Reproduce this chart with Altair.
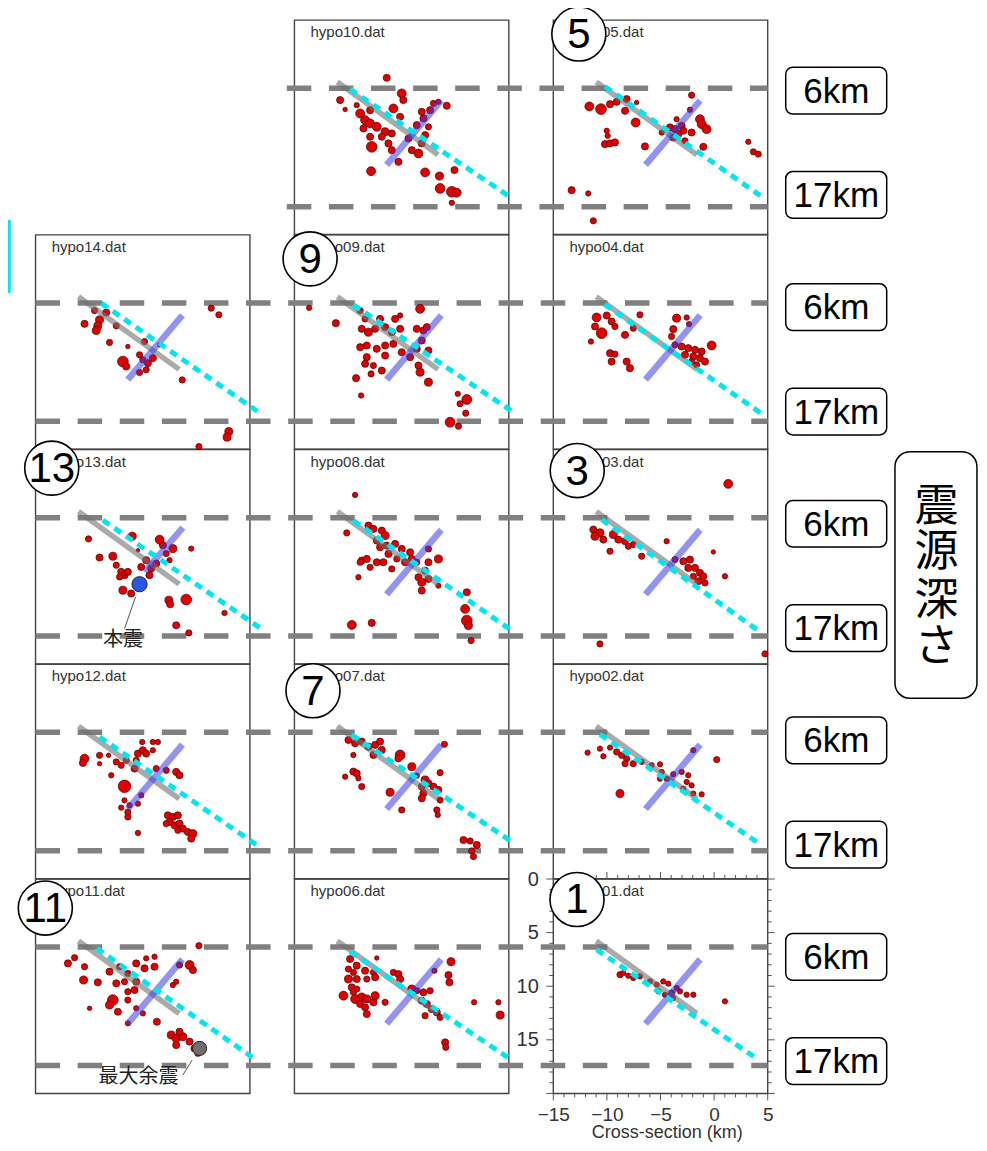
import altair as alt
import pandas as pd

# ------------------------------------------------------------------
# Hypocentres per panel: (cross-section km, depth km, size class)
# ------------------------------------------------------------------
HYPO10 = [(-6.39,5.38,2),(-10.74,7.46,2),(-10.27,8.33,1.25),(-9.19,7.93,1.5),(-8.87,8.71,2.5),(-8.41,9.33,2.5),(-7.94,9.64,2.5),(-8.56,10.1,2),(-7.32,9.95,2.5),(-6.54,10.42,2.25),(-5.92,10.57,2),(-6.85,10.88,2),(-7.94,10.88,2),(-7.79,11.82,3),(-7.94,8.4,2),(-4.99,6.84,2.5),(-4.84,7.46,2),(-5.77,8.24,2.5),(-5.14,9.02,2),(-5.92,12.13,2),(-5.3,13.22,2),(-3.43,12.44,2.5),(-3.13,11.5,2),(-2.81,10.73,2),(-3.59,9.8,2),(-2.96,9.17,2),(-2.34,8.4,2),(-2.03,7.77,1.75),(-1.57,7.62,1.5),(-0.79,7.99,2),(-3.12,8.55,2),(-2.5,9.95,1.75),(-7.85,14.09,2.5),(-2.81,14.21,2.5),(-1.47,14.55,2.25),(-1.41,15.7,2.75),(-0.32,16.01,3),(0.14,16.1,2.5),(-0.07,13.99,2),(-0.32,17.04,1.5),(-4.05,12.13,2),(-6.23,11.5,2),(-4.36,11.04,2)]
HYPO09 = [(-13.63,6.81,1.5),(-11.14,8.24,2),(-3.28,6.9,2.5),(-8.87,7.06,1.75),(-8.41,7.84,1.75),(-8.72,8.77,2),(-8.1,9.08,2.25),(-7.01,7.84,2),(-7.47,8.77,2),(-6.54,8.61,2),(-5.92,9.08,2),(-5.14,8.77,2),(-5.61,7.84,2),(-5.14,7.52,1.5),(-8.87,10.48,2),(-8.25,10.32,2),(-7.32,10.63,2),(-6.54,10.32,2),(-8.25,11.41,2),(-8.41,12.03,2),(-7.63,12.19,1.75),(-6.54,11.26,2),(-5.77,10.17,2),(-4.99,10.95,2),(-4.21,11.41,2),(-3.59,8.77,2),(-2.97,8.92,2),(-2.65,8.61,2),(-3.12,9.86,2),(-3.59,10.63,2),(-2.5,10.79,2),(-3.43,12.19,2),(-3.28,12.81,2.25),(-2.5,13.74,2.25),(-6.85,12.66,2),(-7.85,12.97,1.75),(-9.25,13.37,2),(-8.78,14.99,1.5),(0.24,14.83,1.5),(1.08,15.36,2.75),(0.45,15.76,1.75),(0.98,16.64,1.75),(-0.48,17.48,2.75),(0.3,17.85,1.75)]
HYPO08 = [(-9.34,4.23,1.5),(-10.12,7.77,1.75),(-8.1,7.09,2),(-7.63,7.4,2),(-6.85,7.56,2),(-6.54,8.02,2.25),(-7.32,8.49,2),(-7.01,9.11,2),(-6.39,8.96,2),(-5.61,8.8,2),(-4.99,9.27,2),(-4.21,9.58,2),(-4.05,10.2,2),(-4.68,10.51,2),(-5.45,10.2,1.75),(-6.23,9.73,2),(-8.72,10.35,2),(-8.25,10.2,2),(-8.87,10.51,1.75),(-7.32,10.51,2),(-6.7,10.51,2),(-7.94,10.98,1.75),(-5.92,11.13,1.75),(-9.03,11.91,1.5),(-2.5,9.27,1.75),(-1.57,10.2,2.25),(-2.5,10.51,2),(-2.81,11.29,2),(-3.43,11.91,2),(-3.12,12.38,2.25),(-2.5,12.07,2),(-3.12,13.15,2),(-1.57,12.69,1.5),(1.08,13.31,2),(0.92,14.86,2.5),(1.08,15.95,3),(1.23,16.42,2.25),(1.48,17.82,1.75),(-9.65,16.36,2.5),(-7.79,16.17,2),(-3.59,10.51,1.75)]
HYPO07 = [(-9.96,7.06,2),(-9.34,7.37,2),(-8.72,7.21,2),(-8.1,7.68,2),(-7.47,7.52,2),(-7.01,7.21,2),(-7.63,8.46,2),(-6.85,7.99,2),(-5.14,8.46,2.75),(-5.3,8.77,2),(-1.01,7.46,1.75),(-9.5,8.46,1.5),(-9.5,10.01,2),(-9.19,10.17,2),(-9.03,10.63,1.5),(-10.27,10.48,1.5),(-8.72,11.41,1.75),(-4.05,9.55,2.25),(-3.59,10.39,1.5),(-1.41,10.11,1.75),(-2.81,10.79,2.25),(-3.12,11.41,2),(-2.5,11.1,2),(-2.03,11.41,2),(-1.57,11.72,2),(-2.97,12.03,2),(-3.12,12.5,2),(-1.41,12.66,1.75),(-1.72,13.59,1.75),(-1.63,14.05,1.5),(-6.08,11.94,2.25),(-4.99,13.59,1.75),(0.77,16.39,2),(1.39,16.48,1.75),(2.01,16.85,2),(1.54,17.41,1.75),(1.7,17.94,1.75)]
HYPO06 = [(-9.81,7.46,2),(-9.19,8.08,2),(-9.96,8.4,1.75),(-9.5,8.71,1.75),(-7.32,7.37,1.25),(-8.41,8.55,2),(-7.63,8.71,1.75),(-7.47,9.17,2),(-5.77,8.71,1.75),(-5.3,8.86,2),(-5.14,9.33,2),(-9.96,9.33,2.25),(-9.19,9.33,2),(-8.25,9.33,1.75),(-9.65,10.11,2),(-9.19,10.26,1.75),(-10.43,10.88,2.5),(-9.5,10.57,1.75),(-9.34,11.19,2.5),(-8.72,11.04,2.5),(-8.25,11.19,2.25),(-8.87,11.66,2),(-8.41,11.97,2),(-7.47,10.88,2.25),(-7.63,11.5,2),(-8.25,12.59,2),(-6.54,11.5,1.75),(-4.05,10.26,2.25),(-3.59,10.42,1.75),(-2.97,10.57,2),(-2.34,10.42,1.75),(-3.12,11.35,2),(-2.65,11.66,2),(-2.19,12.13,2),(-1.72,12.44,2),(-1.41,12.9,1.75),(-2.81,12.75,1.75),(-1.94,8.55,1.5),(-0.39,7.71,2.25),(-0.63,8.96,2),(-0.54,9.64,2),(-0.94,15.24,2),(-0.88,15.7,1.75),(1.76,11.5,1.5),(4.03,11.5,1.5),(4.19,12.69,2.25)]
HYPO05 = [(-2.1,7.0,1.75),(-2.25,8.36,1.5),(-11.64,8.05,2.5),(-10.55,8.3,3),(-9.71,7.84,2),(-9.09,7.62,2),(-8.16,7.37,2),(-7.23,7.68,1.25),(-8.31,8.46,2),(-7.32,9.55,2.5),(-10.02,10.32,1.5),(-9.93,10.79,1.5),(-10.18,11.57,2),(-9.71,11.5,2),(-9.25,11.41,2),(-6.45,11.78,2),(-3.5,9.24,1.5),(-4.12,10.01,2),(-3.65,10.17,2),(-3.03,9.86,2),(-2.87,10.32,2),(-3.34,10.63,2),(-3.81,10.95,2),(-2.1,10.48,2),(-1.32,9.24,2.5),(-1.16,9.7,2.5),(-0.7,10.17,2.5),(-1.01,11.82,2),(-2.72,11.26,1.75),(3.19,11.35,1.5),(3.66,12.28,1.75),(4.12,12.5,1.75),(-13.29,15.86,2),(-11.74,16.17,1.5),(-11.27,18.72,1.75),(-4.89,10.48,1.5)]
HYPO04 = [(-10.96,7.71,2.5),(-10.02,7.52,2),(-9.56,8.08,2),(-11.11,8.55,2),(-9.25,8.55,1.75),(-10.49,9.17,3),(-8.31,9.33,2),(-7.54,8.71,1.75),(-6.92,7.46,1.75),(-11.49,9.95,1.5),(-9.71,11.04,2),(-9.25,11.13,1.75),(-9.56,11.82,2),(-8.16,11.82,2),(-7.85,12.44,2),(-3.81,8.8,2),(-3.97,9.48,1.75),(-3.5,7.77,2.25),(-2.56,7.71,1.5),(-2.34,8.33,1.5),(-3.65,10.26,1.75),(-3.03,10.42,2),(-2.41,10.57,2),(-1.78,10.73,2),(-1.16,10.88,2),(-2.72,11.19,2),(-1.94,11.35,2),(-1.32,11.5,2),(-0.85,11.82,2),(-0.23,10.32,2.5),(-2.1,11.82,1.75),(-1.63,12.13,1.75)]
HYPO03 = [(1.32,3.2,2.5),(-11.27,7.46,2),(-10.65,7.77,2.25),(-11.11,8.08,2.25),(-10.33,8.4,2),(-9.4,7.93,2.25),(-8.93,8.4,2),(-8.31,8.55,2),(-7.54,8.86,1.75),(-9.71,9.48,1.75),(-8.0,9.02,1.75),(-6.76,9.95,1.75),(-4.43,8.55,1.5),(-0.07,9.55,1.25),(-3.65,10.26,1.75),(-2.87,10.42,2),(-2.25,10.26,2),(-2.41,11.04,2),(-1.78,11.04,2),(-1.32,11.5,2),(-1.01,11.82,2),(-1.94,11.82,1.75),(-1.47,12.28,2),(-0.85,12.44,1.75),(1.01,11.82,1.5),(-10.65,18.13,1.75),(4.74,19.06,1.75)]
HYPO02 = [(-11.8,8.24,1.5),(-10.65,7.87,1.5),(-9.71,7.77,1.5),(-10.33,8.58,1.5),(-9.09,8.18,1.75),(-8.63,8.49,1.75),(-8.16,8.8,1.75),(-8.31,9.27,1.75),(-7.54,9.27,1.75),(-6.76,9.11,1.5),(-5.83,9.42,1.5),(-5.05,9.33,1.5),(-4.89,10.04,1.5),(-5.05,10.67,1.5),(-3.81,10.26,1.5),(-3.03,10.04,1.5),(-2.41,10.35,1.5),(-2.56,10.98,1.5),(-2.1,11.29,1.5),(-2.87,11.6,1.5),(-1.94,12.06,1.5),(-1.16,12.13,1.5),(-1.94,8.02,1.5),(0.24,8.89,1.75),(-8.78,12.06,2.25),(-4.43,10.67,1.5)]
HYPO01 = [(-8.78,8.92,1.75),(-8.47,8.77,1.5),(-8.0,9.02,1.5),(-7.54,9.24,1.5),(-6.92,9.08,1.5),(-5.98,9.55,1.5),(-5.36,9.86,1.5),(-4.74,9.55,1.5),(-4.27,9.76,1.5),(-5.2,10.48,1.5),(-4.58,10.79,1.5),(-3.96,10.63,1.75),(-3.49,10.17,1.5),(-3.18,10.48,1.5),(-2.56,10.79,1.5),(-1.94,10.79,1.5),(-3.81,11.1,1.5),(1.01,11.41,1.5)]
HYPO14 = [(1.39,6.84,1.75),(2.1,7.46,1.75),(-9.5,7.06,1.75),(-8.41,7.25,2),(-9.03,7.93,2.25),(-9.19,8.49,2.25),(-9.34,8.92,2.25),(-10.43,8.3,2),(-7.47,8.49,1.75),(-8.1,10.04,1.75),(-6.39,10.42,1.25),(-4.83,9.95,1.75),(-6.85,11.82,3),(-6.54,12.28,2),(-5.3,11.19,1.75),(-4.99,11.66,1.75),(-4.52,11.97,2),(-4.05,11.5,2),(-4.68,12.59,1.75),(-5.3,12.84,1.75),(-3.43,10.26,1.25),(-1.32,13.53,1.75),(3.03,18.35,2.25),(2.87,18.87,2.25),(0.24,19.75,1.75)]
HYPO13 = [(-10.06,8.33,1.75),(-9.03,10.07,2),(-7.79,9.95,2.25),(-7.47,10.79,1.75),(-5.98,8.08,2.25),(-5.45,9.39,1),(-3.43,8.4,2.5),(-3.12,8.92,2),(-2.19,9.24,2.25),(-0.48,9.24,1.5),(-7.01,11.41,2),(-6.7,11.72,2),(-7.16,11.88,1.75),(-6.39,11.41,2),(-5.14,10.95,2),(-4.68,10.32,2),(-4.21,11.1,2),(-3.74,10.63,2),(-4.37,11.72,2),(-6.85,13.12,2.25),(-6.08,13.43,2),(-2.56,14.05,2.25),(-2.44,14.43,2),(-0.94,13.99,3),(2.63,15.24,1.5),(-1.88,16.39,2),(-0.7,17.1,1.75),(-2.81,9.7,1.75),(-2.5,10.32,1.5)]
HYPO12 = [(-10.43,8.8,2.5),(-10.58,9.2,2),(-9.03,8.49,1.75),(-9.03,9.27,1.25),(-8.19,8.49,1.25),(-7.47,9.11,1.75),(-7.01,9.42,1.75),(-6.54,8.96,1.75),(-5.61,8.96,1.75),(-5.45,8.33,2),(-4.99,8.02,2),(-4.68,8.33,2),(-5.05,7.25,1.5),(-4.06,7.25,1.5),(-3.59,7.25,1.5),(-4.06,8.02,1.5),(-5.76,9.73,2),(-7.94,10.35,1.5),(-6.7,11.38,3.5),(-3.74,9.73,1.75),(-2.81,9.89,1.75),(-1.88,10.04,2),(-1.57,10.35,2),(-5.14,12.22,1.5),(-5.45,13.0,1.5),(-6.23,13.15,1.5),(-6.7,12.69,1.5),(-7.01,13.37,1.5),(-6.39,13.78,1.75),(-6.39,14.24,1.75),(-5.45,15.73,1.5),(-2.66,14.09,2),(-2.19,14.24,2),(-1.72,14.09,2),(-2.5,14.71,2),(-2.03,15.02,2),(-1.57,14.86,2),(-1.26,15.33,2),(-0.79,15.64,2),(-0.32,15.8,2.25),(-0.48,16.26,2),(-1.72,15.49,1.75),(-2.81,14.86,1.75)]
HYPO11 = [(0.24,6.22,1.75),(-11.36,7.34,1.75),(-11.98,7.87,2),(-10.43,8.18,1.75),(-10.52,9.42,2.25),(-9.19,9.64,2),(-8.1,8.64,2),(-7.16,8.18,1.75),(-6.39,8.8,1.75),(-5.61,7.87,2),(-4.83,8.33,2),(-3.9,8.18,2),(-4.68,7.4,1.5),(-3.9,7.25,1.5),(-7.47,9.73,2),(-6.7,9.58,1.75),(-5.76,10.35,2),(-6.39,10.51,1.75),(-5.61,9.58,2),(-7.79,11.29,3),(-8.1,11.75,2.25),(-7.32,12.38,2),(-9.96,12.06,1.25),(-6.39,11.29,1.75),(-5.61,12.06,1.5),(-4.99,12.53,1.5),(-6.39,13.46,1.5),(-3.68,13.31,2),(-2.19,9.89,1.5),(-1.88,9.58,1.5),(-1.57,8.02,1.75),(-0.63,8.02,2.5),(-0.32,8.49,2),(-2.34,14.55,2.25),(-1.88,14.86,2.25),(-1.26,14.71,2.25),(-1.57,14.24,2),(-0.63,15.17,2),(-0.17,15.8,2),(0.14,16.26,1.75),(-1.88,15.49,2)]

# cyan dotted reference line per panel: (x0, z0, x1, z1)
CYAN14 = (-8.87, 6.37, 5.9, 16.6)
CYAN13 = (-8.72, 6.59, 6.36, 16.92)
CYAN12 = (-9.03, 6.78, 5.9, 17.04)
CYAN11 = (-9.28, 6.47, 5.58, 16.88)
CYAN10 = (-9.81, 6.44, 5.27, 16.6)
CYAN09 = (-9.5, 6.53, 5.43, 16.54)
CYAN08 = (-9.5, 6.62, 5.27, 16.88)
CYAN07 = (-9.65, 6.59, 5.27, 16.54)
CYAN06 = (-9.81, 6.78, 4.9, 16.64)
CYAN05 = (-10.18, 6.19, 4.68, 16.64)
CYAN04 = (-10.24, 6.47, 4.59, 16.79)
CYAN03 = (-10.49, 6.53, 4.43, 17.1)
CYAN02 = (-10.65, 6.53, 4.12, 16.67)
CYAN01 = (-10.96, 6.59, 4.12, 16.85)

# fault model lines (same in every panel)
GRAY_LINE = (-11.0, 5.78, -1.6, 12.55)
BLUE_LINE = (-6.4, 13.5, -1.3, 7.5)
BLUE_LINE_13 = (-4.83, 11.41, -1.26, 7.28)

# depth guide lines and labels
GUIDE_DEPTHS = [6.35, 17.4]
GUIDE_LABELS = ["6km", "17km"]
MAIN_SHOCK = (-5.3, 12.56)          # hypo13
MAX_AFTERSHOCK = (0.3, 15.8)        # hypo11
SIDE_TITLE = ["震", "源", "深", "さ"]

# axis ticks of hypo01
X_MAJOR = [-15, -10, -5, 0, 5]
Z_MAJOR = [0, 5, 10, 15, 20]
X_MINOR = list(range(-15, 6))
Z_MINOR = list(range(0, 21))

# ------------------------------------------------------------------
# Layout: (file name, column, row, circled number, dots, cyan line)
# ------------------------------------------------------------------
PANELS = [
    ("hypo14.dat", 0, 1, None, HYPO14, CYAN14),
    ("hypo13.dat", 0, 2, "13", HYPO13, CYAN13),
    ("hypo12.dat", 0, 3, None, HYPO12, CYAN12),
    ("hypo11.dat", 0, 4, "11", HYPO11, CYAN11),
    ("hypo10.dat", 1, 0, None, HYPO10, CYAN10),
    ("hypo09.dat", 1, 1, "9", HYPO09, CYAN09),
    ("hypo08.dat", 1, 2, None, HYPO08, CYAN08),
    ("hypo07.dat", 1, 3, "7", HYPO07, CYAN07),
    ("hypo06.dat", 1, 4, None, HYPO06, CYAN06),
    ("hypo05.dat", 2, 0, "5", HYPO05, CYAN05),
    ("hypo04.dat", 2, 1, None, HYPO04, CYAN04),
    ("hypo03.dat", 2, 2, "3", HYPO03, CYAN03),
    ("hypo02.dat", 2, 3, None, HYPO02, CYAN02),
    ("hypo01.dat", 2, 4, "1", HYPO01, CYAN01),
]
CIRCLE_OFFSET = {"13": (1.51, 1.73), "11": (0.91, 2.71), "9": (1.46, 2.24),
                 "7": (1.73, 2.47), "5": (2.38, 1.3), "3": (2.23, 1.96), "1": (2.21, 1.91)}

COL_STEP = 24.15   # km between panel columns
ROW_STEP = 20.03   # km between panel rows
X_DOMAIN = [-65.87, 24.71]
Y_DOMAIN = [-81.25, 19.96]
W, H = 971, 1085
FONT = "Liberation Sans"
JFONT = "Noto Sans CJK JP"


def off(col, row):
    return (col - 2) * COL_STEP, (row - 4) * ROW_STEP


dots, frames, names, segs, circles = [], [], [], [], []
for name, col, row, num, pts, cyan in PANELS:
    xo, zo = off(col, row)
    for x, z, m in pts:
        dots.append({"gx": x + xo, "gz": z + zo, "m": m})
    frames.append({"gx": -15 + xo, "gx2": 5 + xo, "gz": zo, "gz2": 20 + zo})
    names.append({"gx": -15 + xo + 1.5, "gz": zo + 1.12, "t": name})
    bl = BLUE_LINE_13 if name == "hypo13.dat" else BLUE_LINE
    for kind, (a, b, c, d) in (("gray", GRAY_LINE), ("blue", bl), ("cyan", cyan)):
        segs.append({"kind": kind, "gx": a + xo, "gz": b + zo, "gx2": c + xo, "gz2": d + zo})
    if num:
        dx, dz = CIRCLE_OFFSET[num]
        circles.append({"gx": -15 + xo + dx, "gz": zo + dz, "t": num})

dots = pd.DataFrame(dots)
frames = pd.DataFrame(frames)
names = pd.DataFrame(names)
segs = pd.DataFrame(segs)
circles = pd.DataFrame(circles)

# dashed depth guides
guides = []
for row in range(5):
    _, zo = off(0, row)
    x_start = off(1, 0)[0] - 15 - 0.71 if row == 0 else off(0, 0)[0] - 15
    for d in GUIDE_DEPTHS:
        guides.append({"gx": x_start, "gx2": 5.0, "gz": d + zo})
guides = pd.DataFrame(guides)

# boxed labels on the right
boxes = []
for row in range(5):
    for lab, zc in zip(GUIDE_LABELS, (-73.54, -63.81)):
        c = zc + 20.2 * row
        boxes.append({"gx": 6.68, "gx2": 16.1, "gz": c - 2.18, "gz2": c + 2.18,
                      "tx": 11.4, "tz": c, "t": lab})
boxes = pd.DataFrame(boxes)

# ticks of the hypo01 frame
tk = []
for v in X_MINOR:
    L = 0.653 if v in X_MAJOR else 0.373
    tk.append({"gx": v, "gx2": v, "gz": 20, "gz2": 20 + L})
    tk.append({"gx": v, "gx2": v, "gz": 0, "gz2": -L})
for v in Z_MINOR:
    L = 0.653 if v in Z_MAJOR else 0.373
    tk.append({"gx": -15, "gx2": -15 - L, "gz": v, "gz2": v})
    tk.append({"gx": 5, "gx2": 5 + L, "gz": v, "gz2": v})
ticks = pd.DataFrame(tk)

xo13, zo13 = off(0, 2)
xo11, zo11 = off(0, 4)
special = pd.DataFrame([
    {"gx": MAIN_SHOCK[0] + xo13, "gz": MAIN_SHOCK[1] + zo13, "c": "#2a55e0", "s": 230},
    {"gx": MAX_AFTERSHOCK[0] + xo11, "gz": MAX_AFTERSHOCK[1] + zo11, "c": "#6e6e6e", "s": 200},
])
leaders = pd.DataFrame([
    {"gx": -5.67 + xo13, "gz": 13.74 + zo13, "gx2": -6.7 + xo13, "gz2": 16.7 + zo13},
    {"gx": -0.39 + xo11, "gz": 16.88 + zo11, "gx2": -1.26 + xo11, "gz2": 18.28 + zo11},
])
ann = pd.DataFrame([
    {"gx": -6.85 + xo13, "gz": 17.79 + zo13, "t": "本震"},
    {"gx": -5.39 + xo11, "gz": 18.44 + zo11, "t": "最大余震"},
])
side_box = pd.DataFrame([{"gx": 16.87, "gx2": 24.52, "gz": -39.86, "gz2": -16.86}])
side_txt = pd.DataFrame({"gx": [20.75] * 4, "gz": [-34.6, -30.41, -25.87, -21.55], "t": SIDE_TITLE})
bracket = pd.DataFrame([{"gx": -67.5, "gx2": -65.8, "gz": -61.29, "gz2": -54.85}])

# ------------------------------------------------------------------
XS = alt.Scale(domain=X_DOMAIN, nice=False, zero=False)
YS = alt.Scale(domain=Y_DOMAIN, nice=False, zero=False, reverse=True)
X_AXIS = alt.Axis(values=X_MAJOR, ticks=False, domain=False, grid=False, labelFlush=False,
                  labelFont=FONT, labelFontSize=19, labelColor="#333", labelPadding=12,
                  titleFont=FONT, titleFontSize=18, titleColor="#333", titleFontWeight="normal",
                  titleX=658.7, titleY=44, titleBaseline="alphabetic", titleAlign="center")
Y_AXIS = alt.Axis(values=Z_MAJOR, ticks=False, domain=False, grid=False, offset=-545.3,
                  labelFont=FONT, labelFontSize=20, labelColor="#333", labelPadding=15)


def X(f="gx"):
    return alt.X(f"{f}:Q", scale=XS, axis=X_AXIS, title="Cross-section (km)")


def Y(f="gz"):
    return alt.Y(f"{f}:Q", scale=YS, axis=Y_AXIS, title=None)


frame_l = alt.Chart(frames).mark_rect(fillOpacity=0, stroke="#444", strokeWidth=1.4).encode(
    x=X(), x2="gx2:Q", y=Y(), y2="gz2:Q")
name_l = alt.Chart(names).mark_text(font=FONT, fontSize=15, color="#333", align="left",
                                    baseline="middle").encode(x=X(), y=Y(), text="t:N")
guide_l = alt.Chart(guides).mark_rule(color="#808080", strokeWidth=5.5, strokeDash=[24.5, 17.6]).encode(
    x=X(), x2="gx2:Q", y=Y())
dot_l = alt.Chart(dots).mark_circle(color="#e00000", opacity=1, stroke="#4a0000", strokeWidth=0.7).encode(
    x=X(), y=Y(),
    size=alt.Size("m:Q", scale=alt.Scale(type="pow", exponent=2, domain=[0, 4], range=[0, 205]), legend=None))
gray_l = alt.Chart(segs).transform_filter(alt.datum.kind == "gray").mark_rule(
    color="#717171", opacity=0.6, strokeWidth=5.5).encode(x=X(), y=Y(), x2="gx2:Q", y2="gz2:Q")
blue_l = alt.Chart(segs).transform_filter(alt.datum.kind == "blue").mark_rule(
    color="#3a3ae6", opacity=0.55, strokeWidth=6.5).encode(x=X(), y=Y(), x2="gx2:Q", y2="gz2:Q")
cyan_l = alt.Chart(segs).transform_filter(alt.datum.kind == "cyan").mark_rule(
    color="#00e6f0", strokeWidth=5, strokeDash=[8, 6]).encode(x=X(), y=Y(), x2="gx2:Q", y2="gz2:Q")
special_l = alt.Chart(special).mark_circle(opacity=1, stroke="#222", strokeWidth=1).encode(
    x=X(), y=Y(), color=alt.Color("c:N", scale=None), size=alt.Size("s:Q", scale=None))
leader_l = alt.Chart(leaders).mark_rule(color="#555", strokeWidth=1).encode(
    x=X(), y=Y(), x2="gx2:Q", y2="gz2:Q")
ann_l = alt.Chart(ann).mark_text(font=JFONT, fontSize=20, color="#222", baseline="middle").encode(
    x=X(), y=Y(), text="t:N")
tick_l = alt.Chart(ticks).mark_rule(color="#555", strokeWidth=1).encode(
    x=X(), y=Y(), x2="gx2:Q", y2="gz2:Q")
circle_l = alt.Chart(circles).mark_point(shape="circle", filled=True, fill="white", opacity=1,
                                         stroke="black", strokeWidth=1.6, size=2920).encode(x=X(), y=Y())
num_l = alt.Chart(circles).mark_text(font=FONT, fontSize=42, color="black", baseline="middle", dy=1).encode(
    x=X(), y=Y(), text="t:N")
box_l = alt.Chart(boxes).mark_rect(fill="white", stroke="black", strokeWidth=1.5, cornerRadius=7).encode(
    x=X(), x2="gx2:Q", y=Y(), y2="gz2:Q")
box_t = alt.Chart(boxes).mark_text(font=FONT, fontSize=35, color="black", baseline="middle", dy=1).encode(
    x=X("tx"), y=Y("tz"), text="t:N")
side_l = alt.Chart(side_box).mark_rect(fill="white", stroke="black", strokeWidth=1.5, cornerRadius=15).encode(
    x=X(), x2="gx2:Q", y=Y(), y2="gz2:Q")
side_t = alt.Chart(side_txt).mark_text(font=JFONT, fontSize=44, color="black", baseline="middle").encode(
    x=X(), y=Y(), text="t:N")
bracket_l = alt.Chart(bracket).mark_rect(fillOpacity=0, stroke="#00e6f0", strokeWidth=4).encode(
    x=X(), x2="gx2:Q", y=Y(), y2="gz2:Q")

chart = alt.layer(
    frame_l, name_l, guide_l, dot_l, gray_l, blue_l, cyan_l, special_l, leader_l, ann_l,
    tick_l, circle_l, num_l, box_l, box_t, side_l, side_t, bracket_l
).properties(
    width=W, height=H,
    autosize=alt.AutoSizeParams(type="none"),
    padding={"left": 0, "top": 0, "right": 0, "bottom": 49},
    background="white",
).configure_view(stroke=None)

chart.save("out.html", embed_options={"renderer": "svg", "actions": False})
